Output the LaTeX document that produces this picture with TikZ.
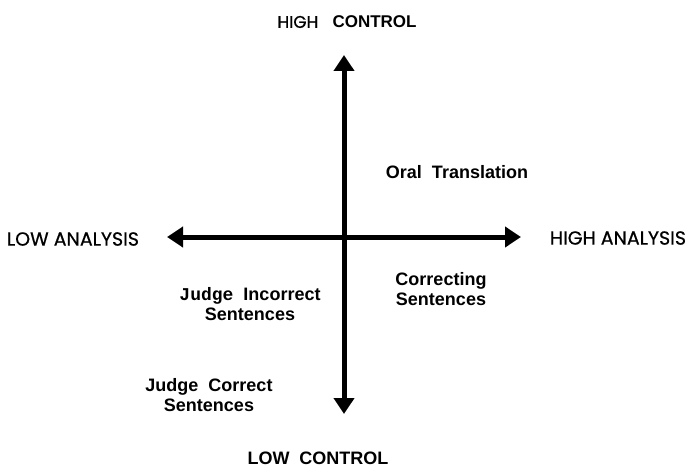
\documentclass[tikz,border=0pt]{standalone}
\usepackage{fontspec}
\setmainfont{Liberation Sans}
\newfontfamily\geo[FakeBold=0.6]{Poppins}
\newfontfamily\mono{Liberation Mono}
\usetikzlibrary{arrows.meta}
\begin{document}
\begin{tikzpicture}[x=1pt,y=-1pt,
  lbl/.style={font=\bfseries\fontsize{18}{20}\selectfont, align=center, inner sep=0pt},
  geolbl/.style={font=\geo\fontsize{19}{20}\selectfont, inner sep=0pt},
  axis/.style={line width=5pt, {Triangle[width=20pt,length=16pt]}-{Triangle[width=20pt,length=16pt]}}]
\path[use as bounding box, fill=white] (0,0) rectangle (688,468);
\coordinate (top) at (344,55);
\coordinate (bottom) at (344,414);
\coordinate (left) at (167,237);
\coordinate (right) at (521,237);
\draw[axis] (bottom) -- (top);
\draw[axis] (left) -- (right);
\node[lbl, font=\bfseries\fontsize{17}{20}\selectfont] (hc) at (347,22) {{\geo\mdseries HIGH}\ \ \ CONTROL};
\node[geolbl] (la) at (73,239) {LOW ANALYSIS};
\node[geolbl] (ha) at (618,238) {HIGH ANALYSIS};
\node[lbl] (ot) at (457,172) {Oral\ \ Translation};
\node[lbl] (cs) at (441,289) {Correcting\\Sentences};
\node[lbl] (ji) at (250,304) {{\mono Judge}\ \ Incorrect\\Sentences};
\node[lbl] (jc) at (209,395) {Judge\ \ Correct\\Sentences};
\node[lbl] (lc) at (318,458) {LOW\ \ CONTROL};
\end{tikzpicture}
\end{document}
